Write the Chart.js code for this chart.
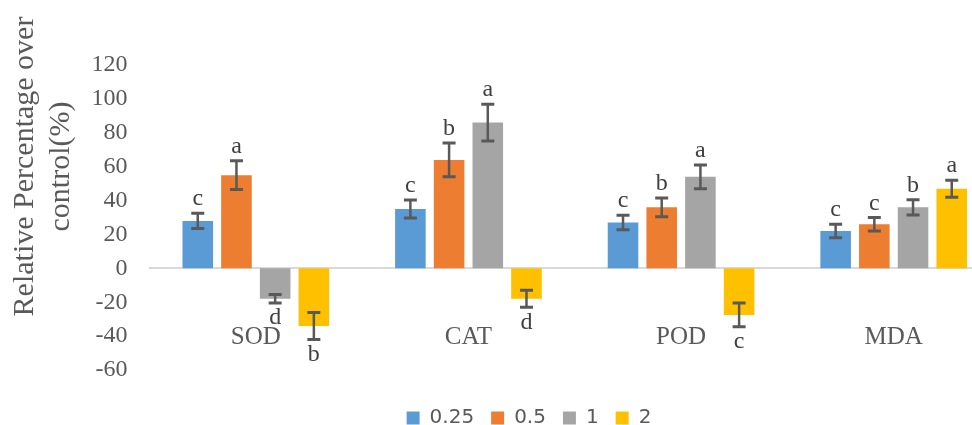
<!DOCTYPE html>
<html>
<head>
<meta charset="utf-8">
<title>Relative Percentage over control</title>
<script src="https://cdn.jsdelivr.net/npm/chart.js@4/dist/chart.umd.min.js"></script>
<style>
  html, body { margin: 0; padding: 0; overflow: hidden; background: #ffffff; }
  #wrap { width: 1000px; height: 438px; }
</style>
</head>
<body>
<div id="wrap"><canvas id="chart" width="1000" height="438"></canvas></div>
<script>
// Enzyme categories and treatment levels
const categories = ['SOD', 'CAT', 'POD', 'MDA'];
const seriesNames = ['0.25', '0.5', '1', '2'];

// Relative change over control (%) per treatment level
const values025 = [28, 35, 27, 22];
const values05  = [55, 64, 36, 26];
const values1   = [-18, 86, 54, 36];
const values2   = [-34, -18, -27.5, 47];

// Error bar half-lengths
const errors025 = [4.5, 5.3, 4.3, 4];
const errors05  = [8.5, 10, 5.5, 4];
const errors1   = [2.5, 10.8, 7, 4.5];
const errors2   = [8, 5, 7, 5];

// Significance letters
const letters025 = ['c', 'c', 'c', 'c'];
const letters05  = ['a', 'b', 'b', 'c'];
const letters1   = ['d', 'a', 'a', 'b'];
const letters2   = ['b', 'd', 'c', 'a'];

// Value axis range and step
const yMin = -60;
const yMax = 120;
const yStep = 20;

const axisTitleLines = ['Relative Percentage over', 'control(%)'];

const seriesColors = ['#5b9bd5', '#ed7d31', '#a5a5a5', '#ffc000'];
const seriesValues = [values025, values05, values1, values2];
const seriesErrors = [errors025, errors05, errors1, errors2];
const seriesLetters = [letters025, letters05, letters1, letters2];

const SERIF = '"Liberation Serif", "Times New Roman", serif';

// Error bars with caps, plus the significance letter beyond each bar end
const errorBarPlugin = {
  id: 'errorBars',
  afterDatasetsDraw(chart) {
    const ctx = chart.ctx;
    const y = chart.scales.y;
    ctx.save();
    chart.data.datasets.forEach((ds, di) => {
      const meta = chart.getDatasetMeta(di);
      meta.data.forEach((bar, i) => {
        const v = ds.data[i];
        const e = ds.errors[i];
        const yHi = y.getPixelForValue(v + e);
        const yLo = y.getPixelForValue(v - e);
        const x = bar.x;
        ctx.strokeStyle = '#595959';
        ctx.lineWidth = 2.5;
        ctx.beginPath();
        ctx.moveTo(x, yHi);
        ctx.lineTo(x, yLo);
        ctx.stroke();
        ctx.lineWidth = 3;
        ctx.beginPath();
        ctx.moveTo(x - 6.5, yHi);
        ctx.lineTo(x + 6.5, yHi);
        ctx.moveTo(x - 6.5, yLo);
        ctx.lineTo(x + 6.5, yLo);
        ctx.stroke();

        ctx.fillStyle = '#404040';
        ctx.font = '24px ' + SERIF;
        ctx.textAlign = 'center';
        if (v >= 0) {
          ctx.textBaseline = 'alphabetic';
          ctx.fillText(ds.letters[i], x, yHi - 8);
        } else {
          ctx.textBaseline = 'top';
          ctx.fillText(ds.letters[i], x, yLo + 3);
        }
      });
    });
    ctx.restore();
  }
};

// Two-line rotated title for the value axis
const axisTitlePlugin = {
  id: 'axisTitle',
  afterDraw(chart) {
    const ctx = chart.ctx;
    ctx.save();
    ctx.fillStyle = '#595959';
    ctx.font = '30px ' + SERIF;
    ctx.textAlign = 'center';
    ctx.textBaseline = 'alphabetic';
    const baselines = [33, 69];
    axisTitleLines.forEach((line, k) => {
      ctx.save();
      ctx.translate(baselines[k], 166.5);
      ctx.rotate(-Math.PI / 2);
      ctx.fillText(line, 0, 0);
      ctx.restore();
    });
    ctx.restore();
  }
};

new Chart(document.getElementById('chart'), {
  type: 'bar',
  data: {
    labels: categories,
    datasets: seriesNames.map((name, k) => ({
      label: name,
      data: seriesValues[k],
      errors: seriesErrors[k],
      letters: seriesLetters[k],
      backgroundColor: seriesColors[k],
      borderWidth: 0,
      categoryPercentage: 0.728,
      barPercentage: 0.79
    }))
  },
  options: {
    responsive: false,
    animation: false,
    devicePixelRatio: 1,
    layout: { padding: { left: 58, top: 65, right: 0, bottom: 0 } },
    scales: {
      x: {
        position: { y: 0 },
        grid: { display: false, drawTicks: false },
        border: { display: true, color: '#d9d9d9', width: 2 },
        ticks: {
          color: '#595959',
          font: { family: SERIF, size: 25 },
          padding: 54
        }
      },
      y: {
        min: yMin,
        max: yMax,
        afterFit(scale) { scale.width = 91.5; },
        grid: { display: false, drawTicks: false },
        border: { display: false },
        ticks: {
          stepSize: yStep,
          color: '#595959',
          font: { family: SERIF, size: 24 },
          padding: 22
        }
      }
    },
    plugins: {
      tooltip: { enabled: false },
      legend: {
        position: 'bottom',
        title: { display: true, text: '', font: { size: 10 }, padding: { top: 9, bottom: 0 } },
        labels: {
          boxWidth: 13,
          boxHeight: 13,
          padding: 17,
          color: '#595959',
          font: { family: '"DejaVu Sans", sans-serif', size: 20 }
        }
      }
    }
  },
  plugins: [errorBarPlugin, axisTitlePlugin]
});
</script>
</body>
</html>
